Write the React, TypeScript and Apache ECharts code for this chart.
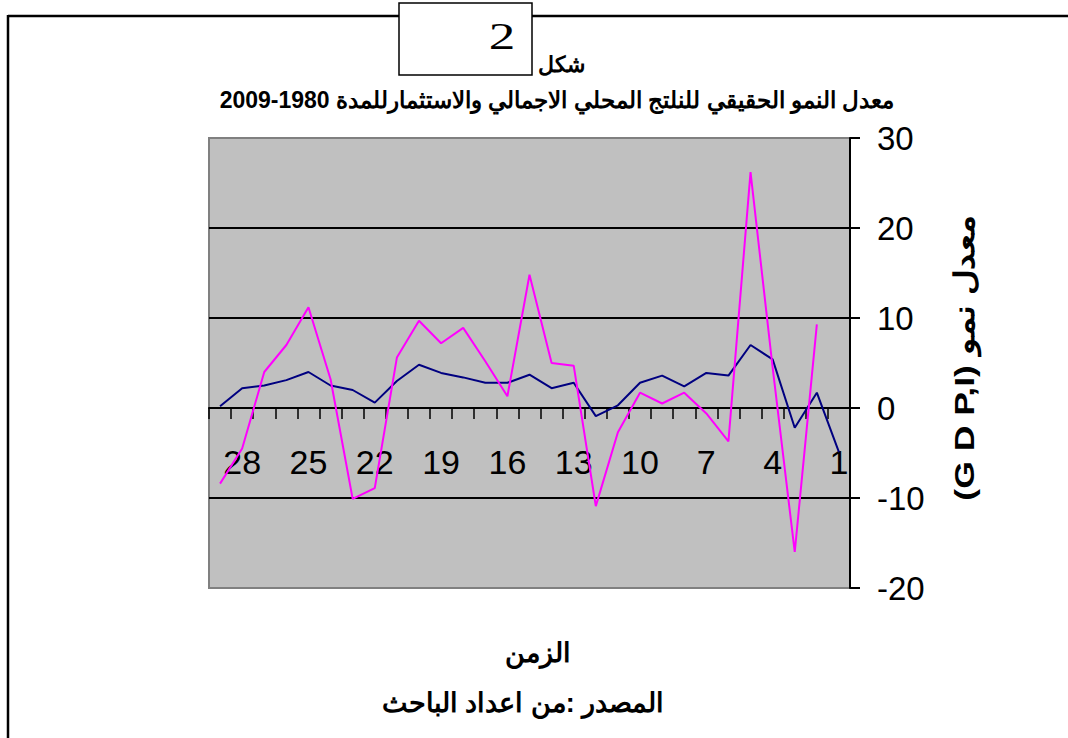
import React, { useEffect, useRef } from "react";
import * as echarts from "echarts";

const categories = ["1","2","3","4","5","6","7","8","9","10","11","12","13","14","15","16","17","18","19","20","21","22","23","24","25","26","27","28","29"];

// Real GDP growth (navy)
const gdpGrowth = [-4.9, 1.7, -2.2, 5.4, 7.0, 3.6, 3.9, 2.4, 3.6, 2.8, 0.3, -0.9, 2.8, 2.2, 3.7, 2.8, 2.8, 3.4, 3.9, 4.8, 3.0, 0.6, 2.0, 2.5, 4.0, 3.1, 2.5, 2.2, 0.2];

// Investment growth (magenta)
const investGrowth = [null, 9.3, -16.0, 4.5, 26.2, -3.7, -0.6, 1.7, 0.5, 1.7, -2.7, -10.9, 4.7, 5.0, 14.8, 1.3, 5.2, 8.9, 7.2, 9.7, 5.6, -8.9, -10.1, 3.2, 11.2, 7.0, 4.0, -4.5, -8.4];

const yMin = -20;
const yMax = 30;
const yStep = 10;

const titleText = "معدل النمو الحقيقي للنلتج المحلي الاجمالي والاستثمارللمدة 1980-2009";
const figLabel = "شكل";
const figNumber = "2";
const yName = "(G D P,I) معدل نمو";
const xName = "الزمن";
const sourceText = "المصدر :من اعداد الباحث";

export default function App() {
  const ref = useRef<HTMLDivElement>(null);
  useEffect(() => {
    if (!ref.current) return;
    const chart = echarts.init(ref.current, null, { renderer: "svg" });
    const font = "'Liberation Sans', Arial, 'DejaVu Sans', sans-serif";
    const gridTop = 138;
    const gridBottomPx = 588;
    const zeroPx = gridTop + ((yMax - 0) / (yMax - yMin)) * (gridBottomPx - gridTop);
    chart.setOption({
      animation: false,
      backgroundColor: "#ffffff",
      grid: {
        left: 209,
        right: 218,
        top: gridTop,
        bottom: 738 - gridBottomPx,
        show: true,
        backgroundColor: "#C0C0C0",
        borderColor: "#808080",
        borderWidth: 2,
      },
      xAxis: {
        type: "category",
        data: categories,
        inverse: true,
        boundaryGap: true,
        position: "bottom",
        offset: -(gridBottomPx - zeroPx),
        axisLine: { onZero: false, lineStyle: { color: "#000", width: 2 } },
        axisTick: { show: true, interval: 0, length: 11, lineStyle: { color: "#000", width: 1.5 } },
        axisLabel: {
          interval: (index: number) => index % 3 === 0,
          fontSize: 34,
          fontFamily: font,
          color: "#000",
          margin: 37,
        },
        splitLine: { show: false },
      },
      yAxis: {
        type: "value",
        position: "right",
        min: yMin,
        max: yMax,
        interval: yStep,
        axisLine: { show: true, onZero: false, lineStyle: { color: "#000", width: 2 } },
        axisTick: { show: true, length: 10, lineStyle: { color: "#000", width: 2 } },
        axisLabel: { fontSize: 33, fontFamily: font, color: "#000", margin: 27 },
        splitLine: {
          show: true,
          lineStyle: { color: ["#808080", "#000", "#000", "#000", "#000", "#808080"], width: 2 },
        },
      },
      series: [
        {
          name: "GDP",
          type: "line",
          data: gdpGrowth,
          symbol: "none",
          lineStyle: { color: "#000080", width: 2 },
          itemStyle: { color: "#000080" },
          z: 3,
        },
        {
          name: "I",
          type: "line",
          data: investGrowth,
          symbol: "none",
          lineStyle: { color: "#FF00FF", width: 2 },
          itemStyle: { color: "#FF00FF" },
          z: 4,
        },
      ],
      graphic: [
        { type: "line", shape: { x1: 8, y1: 16, x2: 399, y2: 16 }, style: { stroke: "#000", lineWidth: 2.5 } },
        { type: "line", shape: { x1: 532, y1: 16, x2: 1068, y2: 16 }, style: { stroke: "#000", lineWidth: 2.5 } },
        { type: "line", shape: { x1: 8, y1: 15, x2: 8, y2: 738 }, style: { stroke: "#000", lineWidth: 2.5 } },
        { type: "rect", shape: { x: 399, y: 3, width: 133, height: 72 }, style: { fill: "#fff", stroke: "#000", lineWidth: 1.5 } },
        {
          type: "text",
          x: 502,
          y: 36,
          scaleX: 1.4,
          style: { text: figNumber, font: "38px 'Liberation Serif', 'Times New Roman', serif", fill: "#000", align: "center", verticalAlign: "middle" },
        },
        {
          type: "text",
          x: 561,
          y: 64,
          style: { text: figLabel, font: "bold 22px 'Liberation Sans', Arial, sans-serif", fill: "#000", align: "center", verticalAlign: "middle" },
        },
        {
          type: "text",
          x: 557,
          y: 100,
          style: { text: titleText, font: "bold 23px 'Liberation Sans', Arial, sans-serif", fill: "#000", align: "center", verticalAlign: "middle" },
        },
        {
          type: "text",
          x: 964,
          y: 358,
          rotation: Math.PI / 2,
          scaleX: 1.27,
          style: { text: yName, font: "bold 28px 'Liberation Sans', Arial, sans-serif", fill: "#000", align: "center", verticalAlign: "middle" },
        },
        {
          type: "text",
          x: 538,
          y: 653,
          style: { text: xName, font: "bold 27px 'Liberation Sans', Arial, sans-serif", fill: "#000", align: "center", verticalAlign: "middle" },
        },
        {
          type: "text",
          x: 523,
          y: 703,
          style: { text: sourceText, font: "bold 27px 'Liberation Sans', Arial, sans-serif", fill: "#000", align: "center", verticalAlign: "middle" },
        },
      ],
    });
    return () => chart.dispose();
  }, []);
  return (
    <div
      ref={ref}
      style={{ position: "fixed", left: 0, top: 0, width: 1068, height: 738 }}
    />
  );
}
